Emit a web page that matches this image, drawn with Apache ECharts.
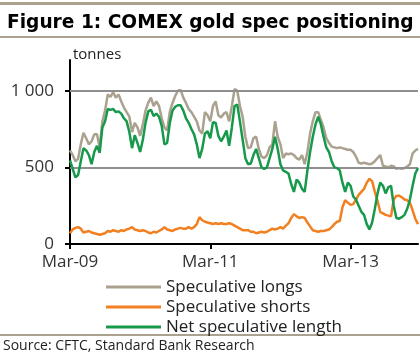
<!DOCTYPE html>
<html><head><meta charset="utf-8">
<script src="https://cdn.jsdelivr.net/npm/echarts@6/dist/echarts.min.js"></script>
<style>html,body{margin:0;padding:0;background:#fff}#c{width:420px;height:355px}</style>
</head><body><div id="c"></div>
<script>
// Biweekly observations, Mar 2009 - Feb 2014 (tonnes)
const startDate = '2009-03-03';
const tickIndex = [0, 52, 104];
const tickLabels = ['Mar-09', 'Mar-11', 'Mar-13'];
const yTicks = [0, 500, 1000];
const seriesNames = ['Speculative longs', 'Speculative shorts', 'Net speculative length'];

const longs = [610,580,540,555,650,725,690,650,670,715,715,630,800,870,975,960,990,955,975,930,
890,860,830,730,790,760,705,780,870,920,955,900,930,900,820,760,740,860,920,965,
1000,1005,955,920,880,860,830,800,740,720,860,840,800,900,930,840,825,850,860,800,
900,1010,1000,900,830,700,625,630,690,700,620,570,560,580,630,650,800,700,650,560,
590,585,590,580,560,550,580,520,600,720,800,860,860,810,760,690,660,635,630,625,
630,625,620,615,615,600,570,530,525,530,525,520,525,540,560,580,510,505,500,510,
505,490,495,490,495,505,520,590,610,620];

const shorts = [70,95,105,110,100,75,80,85,75,70,65,60,65,70,85,80,90,85,80,90,
85,95,100,110,95,90,85,90,85,75,70,80,75,85,95,110,95,90,85,95,
100,105,100,100,110,100,110,130,175,155,145,140,135,130,135,130,135,130,130,135,
130,120,110,100,90,90,90,80,80,70,75,80,75,80,90,100,95,100,110,100,
120,135,170,195,180,170,175,170,140,115,90,85,80,85,85,90,95,110,130,145,
150,240,285,270,255,260,290,320,340,360,400,425,410,340,280,210,200,190,185,180,
290,315,315,305,290,285,270,220,165,130];

const net = [545,490,435,450,540,625,610,580,520,600,640,595,760,800,880,875,880,860,865,850,
820,800,730,625,710,660,600,680,790,865,875,835,850,830,770,650,660,790,870,895,
905,905,870,820,790,750,715,650,560,620,720,735,690,795,790,705,670,700,740,640,
760,900,910,800,680,560,520,525,580,620,560,500,490,500,560,620,700,620,520,480,
470,460,390,340,420,400,360,340,480,600,700,780,830,780,700,630,600,540,500,495,
480,400,340,400,380,310,290,250,210,190,130,95,140,230,330,400,380,330,370,380,
250,170,165,175,190,230,290,380,460,495];

const categories = [];
(function(){ const d0 = new Date(startDate + 'T00:00:00Z');
  for (let i = 0; i < longs.length; i++) { const d = new Date(d0.getTime() + i * 14 * 86400000); categories.push(d.toISOString().slice(0,10)); } })();

const tan = '#aaa18f';
const font = '"Open Sans", sans-serif';
const chart = echarts.init(document.getElementById('c'), null, {renderer: 'canvas'});
const labelOf = {}; tickIndex.forEach((k, j) => labelOf[k] = tickLabels[j]);
const showIdx = (i) => labelOf.hasOwnProperty(i);

chart.setOption({
  animation: false,
  title: {text: 'Figure 1: COMEX gold spec positioning', left: 2, top: 9,
    textStyle: {fontFamily: '"DejaVu Sans", sans-serif', fontWeight: 'bold', fontSize: 18.6, color: '#000'}},
  graphic: [
    {type: 'rect', shape: {x: 0, y: 2, width: 420, height: 3}, style: {fill: tan}},
    {type: 'rect', shape: {x: 0, y: 36, width: 420, height: 2}, style: {fill: tan}},
    {type: 'rect', shape: {x: 0, y: 334, width: 420, height: 2}, style: {fill: tan}},
    {type: 'text', left: 73, top: 47, style: {text: 'tonnes', font: '15px ' + font, fill: '#222'}},
    {type: 'text', left: 3, top: 339, style: {text: 'Source: CFTC, Standard Bank Research', font: '14px ' + font, fill: '#222'}}
  ],
  grid: {left: 70, right: 2, top: 60, bottom: 111, containLabel: false},
  legend: {orient: 'vertical', left: 101, top: 273, itemWidth: 55, itemHeight: 3, itemGap: 2,
    icon: 'rect', textStyle: {fontFamily: font, fontSize: 17, color: '#222', lineHeight: 18, padding: [0,0,0,0]},
    data: seriesNames},
  xAxis: {type: 'category', data: categories, boundaryGap: false,
    axisLine: {onZero: true, lineStyle: {color: '#000', width: 2}},
    axisTick: {show: true, interval: (i) => showIdx(i), length: 5, lineStyle: {color: '#000', width: 2}},
    axisLabel: {interval: (i) => showIdx(i), formatter: (v, i) => labelOf[i] || '', margin: 10,
      fontFamily: font, fontSize: 17, color: '#333'},
    splitLine: {show: false}},
  yAxis: {type: 'value', min: 0, max: 1200,
    axisLine: {show: true, lineStyle: {color: '#000', width: 2}},
    axisTick: {show: true, customValues: yTicks, length: 5, lineStyle: {color: '#000', width: 2}},
    axisLabel: {customValues: yTicks, formatter: (v) => v >= 1000 ? '1 000' : String(v), margin: 16,
      fontFamily: font, fontSize: 17, color: '#333'},
    splitLine: {show: false}},
  series: [
    {type: 'line', name: 'grid', data: [], z: 1, silent: true,
      markLine: {silent: true, symbol: 'none', label: {show: false}, animation: false,
        lineStyle: {color: '#8f8f8f', width: 2, type: 'solid'},
        data: [{yAxis: yTicks[1]}, {yAxis: yTicks[2]}]}},
    {type: 'line', name: seriesNames[0], data: longs, showSymbol: false, z: 3,
      lineStyle: {color: '#aaa18f', width: 2.5}, itemStyle: {color: '#aaa18f'}},
    {type: 'line', name: seriesNames[1], data: shorts, showSymbol: false, z: 4,
      lineStyle: {color: '#f28021', width: 2.5}, itemStyle: {color: '#f28021'}},
    {type: 'line', name: seriesNames[2], data: net, showSymbol: false, z: 5,
      lineStyle: {color: '#16994a', width: 2.5}, itemStyle: {color: '#16994a'}}
  ]
});
</script></body></html>
